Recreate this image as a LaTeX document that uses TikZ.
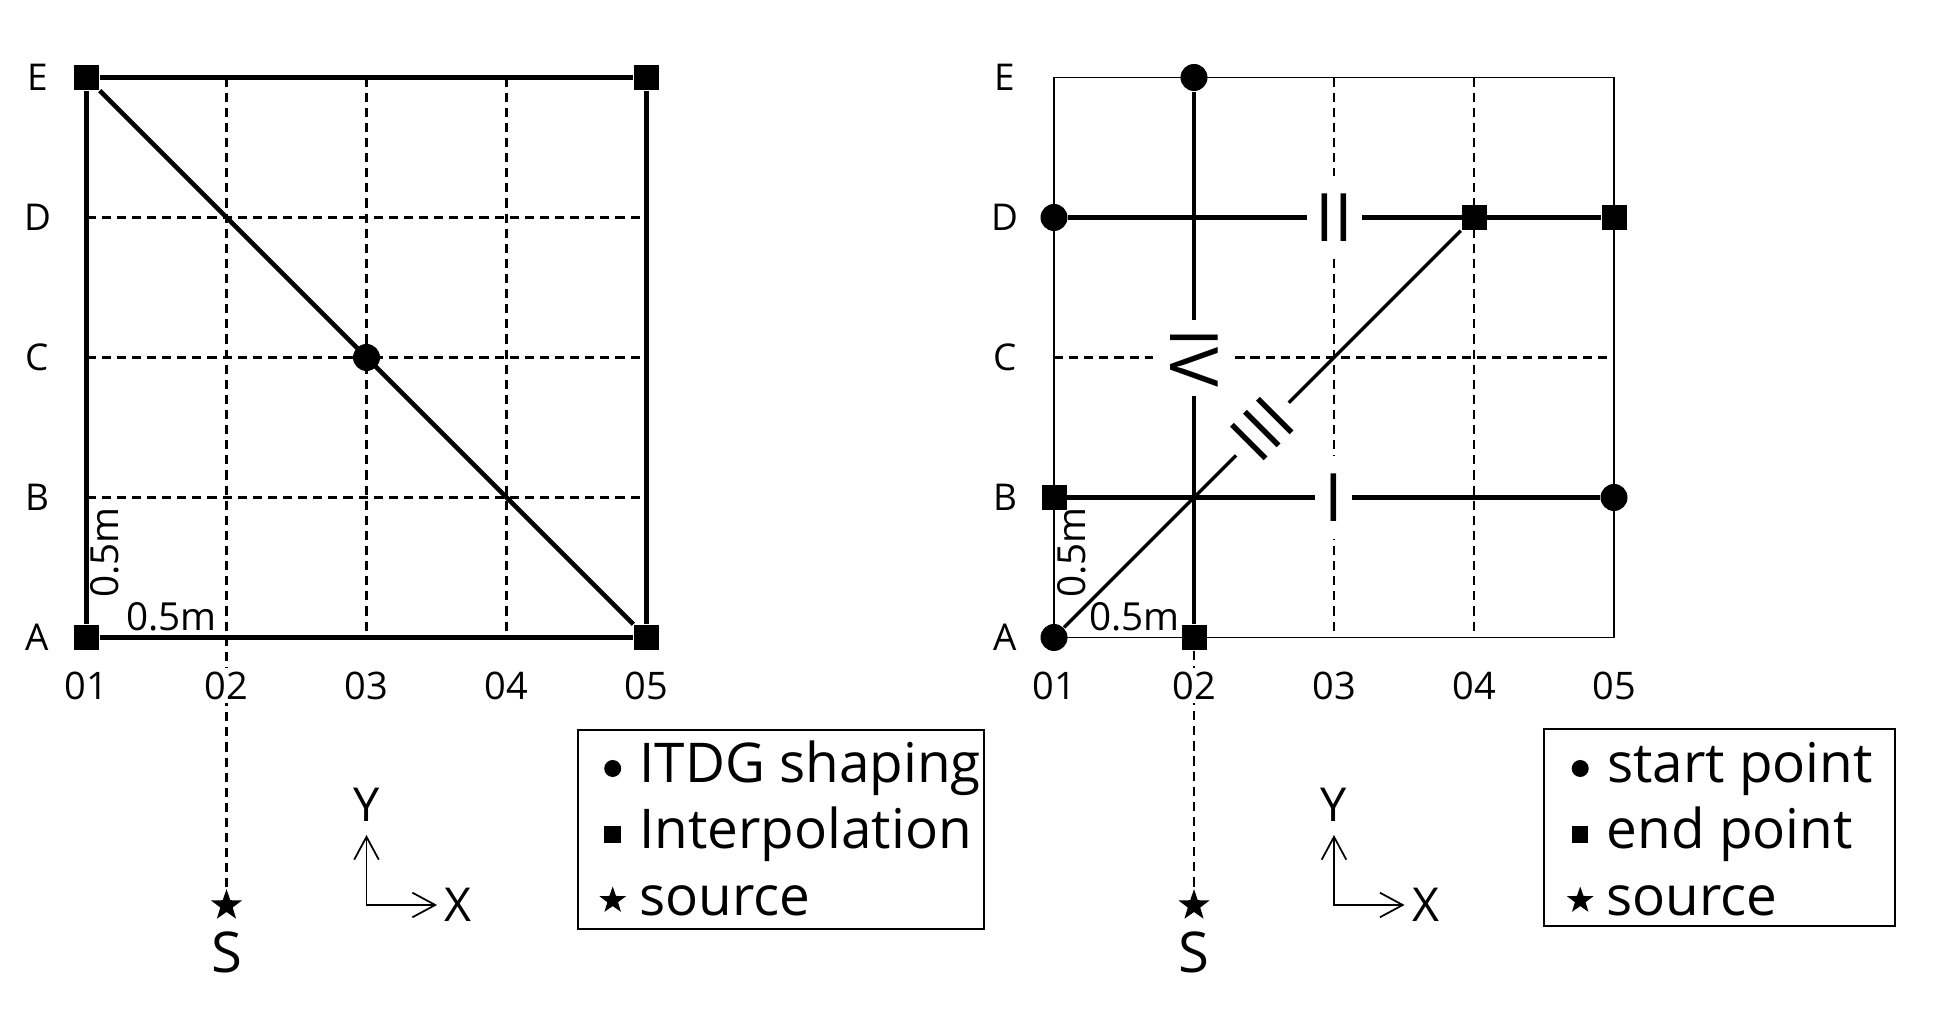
\documentclass[tikz,border=0pt]{standalone}
\usepackage{fontspec}
\setmainfont{Open Sans}
\usetikzlibrary{arrows.meta,shapes.geometric}

\begin{document}
\begin{tikzpicture}[node distance=1.4cm]
\tikzstyle{gp} = [shape=coordinate,node distance=1.4cm]
\tikzstyle{startpt} = [fill,shape=circle,inner sep=0pt,minimum size=0.27cm,node distance=1.4cm]
\tikzstyle{endpt} = [fill,shape=rectangle,inner sep=0pt,minimum size=0.25cm,node distance=1.4cm]
\tikzstyle{srcpt} = [fill,shape=star,star points=5,star point ratio=2.5,inner sep=0pt,minimum size=0.326cm]
\tikzstyle{gridline} = [line width=0.6pt,dash pattern=on 2.6pt off 1.7pt]
\tikzstyle{track} = [line width=1.3pt]
\tikzstyle{diag} = [line width=1.0pt]
\tikzstyle{rim} = [line width=0.55pt]
\tikzstyle{rowlab} = [font=\fontsize{10.5}{12}\selectfont,node distance=0.49cm]
\tikzstyle{collab} = [font=\fontsize{10.8}{12}\selectfont,fill=white,inner sep=1pt,node distance=0.48cm]
\tikzstyle{dimlab} = [font=\fontsize{11}{13}\selectfont,inner sep=0pt]
\tikzstyle{numlab} = [font=\fontsize{19}{22}\selectfont,fill=white,inner xsep=2.6pt,inner ysep=5pt]
\tikzstyle{srclab} = [font=\fontsize{16}{19}\selectfont,node distance=0.47cm]
\tikzstyle{axarrow} = [line width=0.5pt,{Straight Barb[length=6.5pt,width=7pt]}-{Straight Barb[length=6.5pt,width=7pt]}]
\tikzstyle{axlab} = [font=\fontsize{13.3}{16}\selectfont]
\tikzstyle{keybox} = [draw,line width=0.75pt,inner sep=0pt]
\tikzstyle{keytxt} = [font=\fontsize{15.6}{18}\selectfont,xshift=1.5pt]
\tikzstyle{keydot} = [fill,shape=circle,inner sep=0pt,minimum size=0.17cm,node distance=0.66cm]
\tikzstyle{keysq} = [fill,shape=rectangle,inner sep=0pt,minimum size=0.165cm,node distance=0.66cm]
\tikzstyle{keystar} = [fill,shape=star,star points=5,star point ratio=2.5,inner sep=0pt,minimum size=0.28cm,node distance=0.66cm]

\useasboundingbox (-0.865,-3.735) rectangle (18.645,6.375);

\node[endpt] (lA1) at (0,0) {};
\node[gp,right of=lA1] (lA2) {};
\node[gp,right of=lA2] (lA3) {};
\node[gp,right of=lA3] (lA4) {};
\node[endpt,right of=lA4] (lA5) {};
\node[gp,above of=lA1] (lB1) {};
\node[gp,above of=lB1] (lC1) {};
\node[gp,above of=lC1] (lD1) {};
\node[endpt,above of=lD1] (lE1) {};
\node[gp,right of=lE1] (lE2) {};
\node[gp,right of=lE2] (lE3) {};
\node[gp,right of=lE3] (lE4) {};
\node[endpt,right of=lE4] (lE5) {};
\node[gp,above of=lA5] (lB5) {};
\node[gp,above of=lB5] (lC5) {};
\node[gp,above of=lC5] (lD5) {};

\node[srcpt,node distance=2.68cm,below of=lA2] (lS) {};
\node[srclab,below of=lS] (lSt) {S};

\draw[gridline] (lE2) -- (lS);
\draw[gridline] (lE3) -- (lA3);
\draw[gridline] (lE4) -- (lA4);
\draw[gridline] (lB1) -- (lB5);
\draw[gridline] (lC1) -- (lC5);
\draw[gridline] (lD1) -- (lD5);

\draw[track] (lA1) -- (lA5) -- (lE5) -- (lE1) -- (lA1);
\draw[track] (lE1) -- node[startpt] (lC3) {} (lA5);

\node[rowlab,left of=lA1] (lrA) {A};
\node[rowlab,left of=lB1] (lrB) {B};
\node[rowlab,left of=lC1] (lrC) {C};
\node[rowlab,left of=lD1] (lrD) {D};
\node[rowlab,left of=lE1] (lrE) {E};
\node[collab,below of=lA1] (lc1) {01};
\node[collab,below of=lA2] (lc2) {02};
\node[collab,below of=lA3] (lc3) {03};
\node[collab,below of=lA4] (lc4) {04};
\node[collab,below of=lA5] (lc5) {05};

\node[dimlab,anchor=base east] (lwx) at (1.31,0.068) {0.5m};
\node[dimlab,rotate=90,anchor=base west] (lwy) at (0.318,0.392) {0.5m};

\node[gp,node distance=2.675cm,below of=lA3] (lO) {};
\node[gp,node distance=0.7cm,above of=lO] (lY) {};
\node[gp,node distance=0.706cm,right of=lO] (lX) {};
\draw[axarrow] (lY) -- (lO) -- (lX);
\node[axlab,node distance=0.3cm,above of=lY] (lYt) {Y};
\node[axlab,node distance=0.21cm,right of=lX] (lXt) {X};

\node[keybox,minimum width=4.06cm,minimum height=1.99cm] (lkey) at (6.945,-1.92) {};
\node[keydot,label={[keytxt]right:ITDG shaping}] (lk1) at (5.262,-1.31) {};
\node[keysq,below of=lk1,label={[keytxt]right:Interpolation}] (lk2) {};
\node[keystar,below of=lk2,label={[keytxt]right:source}] (lk3) {};

\node[startpt] (rA1) at (9.675,0) {};
\node[endpt,right of=rA1] (rA2) {};
\node[gp,right of=rA2] (rA3) {};
\node[gp,right of=rA3] (rA4) {};
\node[gp,right of=rA4] (rA5) {};
\node[endpt,above of=rA1] (rB1) {};
\node[gp,above of=rB1] (rC1) {};
\node[startpt,above of=rC1] (rD1) {};
\node[gp,above of=rD1] (rE1) {};
\node[startpt,right of=rE1] (rE2) {};
\node[gp,right of=rE2] (rE3) {};
\node[gp,right of=rE3] (rE4) {};
\node[gp,right of=rE4] (rE5) {};
\node[startpt,above of=rA5] (rB5) {};
\node[gp,above of=rB5] (rC5) {};
\node[endpt,above of=rC5] (rD5) {};
\node[endpt,left of=rD5] (rD4) {};

\node[srcpt,node distance=2.68cm,below of=rA2] (rS) {};
\node[srclab,below of=rS] (rSt) {S};

\draw[gridline] (rA2) -- (rS);
\draw[gridline] (rE3) -- (rA3);
\draw[gridline] (rE4) -- (rA4);
\draw[gridline] (rC1) -- (rC5);

\draw[rim] (rA1.center) -- (rA5) -- (rE5) -- (rE1) -- (rA1.center);
\draw[track] (rB1) -- node[numlab] (rn1) {I} (rB5);
\draw[track] (rD1) -- node[numlab] (rn2) {II} (rD5);
\draw[diag] (rA1) -- node[numlab,rotate=45] (rn3) {III} (rD4);
\draw[track] (rE2) -- node[numlab,rotate=-90] (rn4) {IV} (rA2);

\node[rowlab,left of=rA1] (rrA) {A};
\node[rowlab,left of=rB1] (rrB) {B};
\node[rowlab,left of=rC1] (rrC) {C};
\node[rowlab,left of=rD1] (rrD) {D};
\node[rowlab,left of=rE1] (rrE) {E};
\node[collab,below of=rA1] (rc1) {01};
\node[collab,below of=rA2] (rc2) {02};
\node[collab,below of=rA3] (rc3) {03};
\node[collab,below of=rA4] (rc4) {04};
\node[collab,below of=rA5] (rc5) {05};

\node[dimlab,anchor=base east] (rwx) at (10.938,0.068) {0.5m};
\node[dimlab,rotate=90,anchor=base west] (rwy) at (9.993,0.392) {0.5m};

\node[gp,node distance=2.675cm,below of=rA3] (rO) {};
\node[gp,node distance=0.7cm,above of=rO] (rY) {};
\node[gp,node distance=0.706cm,right of=rO] (rX) {};
\draw[axarrow] (rY) -- (rO) -- (rX);
\node[axlab,node distance=0.3cm,above of=rY] (rYt) {Y};
\node[axlab,node distance=0.21cm,right of=rX] (rXt) {X};

\node[keybox,minimum width=3.51cm,minimum height=1.97cm] (rkey) at (16.33,-1.90) {};
\node[keydot,label={[keytxt]right:start point}] (rk1) at (14.937,-1.31) {};
\node[keysq,below of=rk1,label={[keytxt]right:end point}] (rk2) {};
\node[keystar,below of=rk2,label={[keytxt]right:source}] (rk3) {};

\end{tikzpicture}
\end{document}
